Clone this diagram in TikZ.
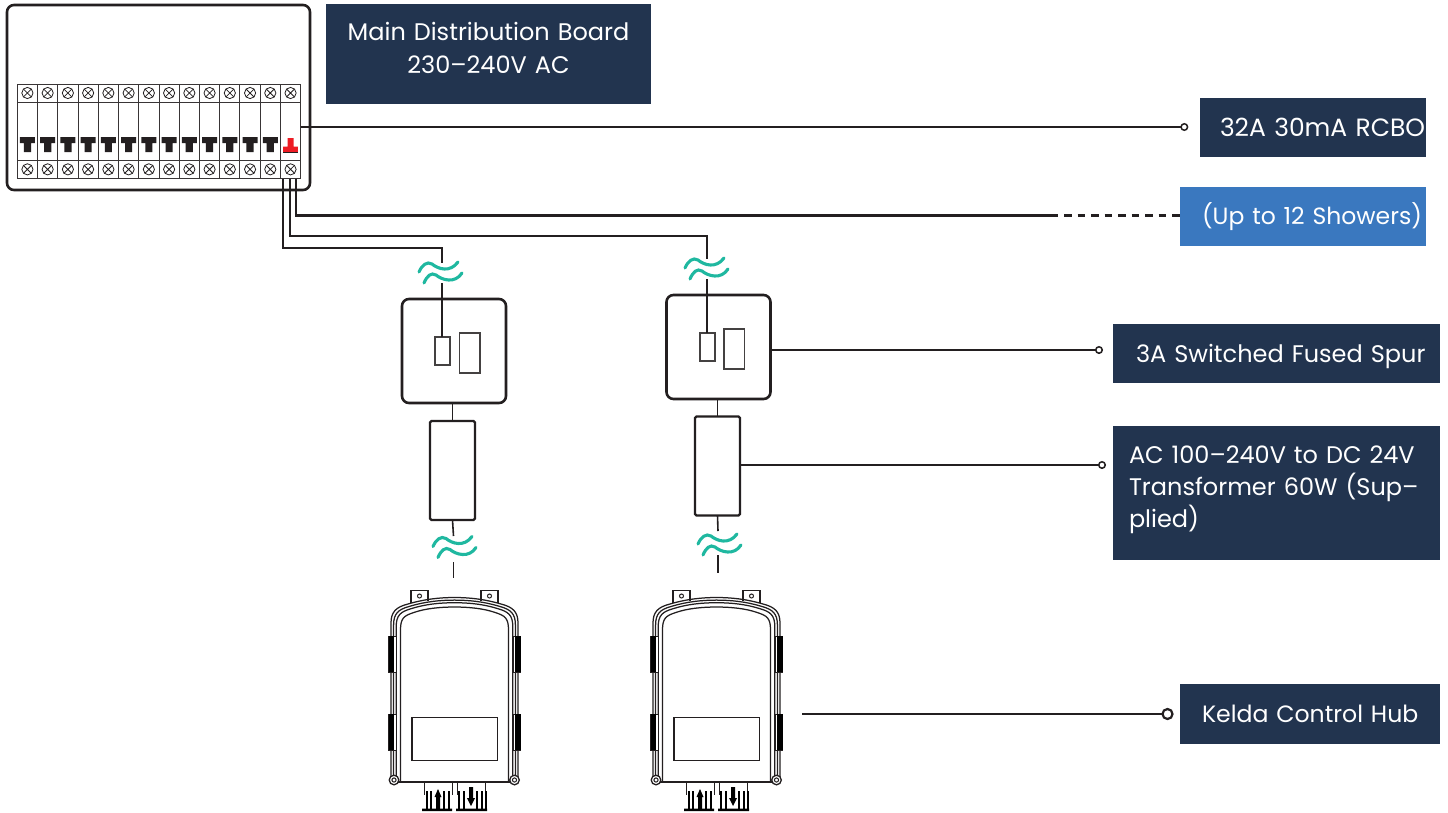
\documentclass[tikz,border=0pt]{standalone}
\usepackage{fontspec}
\usetikzlibrary{calc}
\setmainfont{Poppins}
\definecolor{navy}{HTML}{22344F}
\definecolor{bluebox}{HTML}{3A78BF}
\definecolor{ink}{HTML}{231F20}
\definecolor{teal}{HTML}{1FB8A0}
\definecolor{rcdred}{HTML}{ED1C24}
\tikzset{
  x=1pt,y=-1pt,
  tag/.style={anchor=north west,inner sep=0pt,outer sep=0pt,text=white,font=\fontsize{24}{32}\selectfont,align=left},
  navytag/.style={tag,fill=navy},
  bluetag/.style={tag,fill=bluebox},
  wire/.style={draw=ink,line width=2.2pt},
  thinwire/.style={draw=ink,line width=1.6pt},
  heavybox/.style={draw=ink,line width=2.6pt,rounded corners=7pt,fill=white,inner sep=0pt,outer sep=0pt,anchor=north west},
  tbox/.style={draw=ink,line width=2.4pt,rounded corners=1.5pt,fill=white,inner sep=0pt,outer sep=0pt,anchor=north west},
  lilbox/.style={draw=ink!85,line width=1.2pt,fill=white,inner sep=0pt,outer sep=0pt,anchor=north west},
  cell/.style={draw=ink!90,line width=.9pt,fill=white,inner sep=0pt,outer sep=0pt,anchor=north west,minimum width=20.24pt},
  endball/.style={circle,draw=ink,fill=white,line width=1.5pt,minimum size=6.5pt,inner sep=0pt,outer sep=0pt},
  squig/.style={draw=teal,line width=3.1pt,line cap=round},
  hubline/.style={draw=ink,line width=1pt},
}
\newcommand{\squiggle}[2]{%
  \begin{scope}[shift={(#1,#2)}]
    \draw[squig] (0,10) .. controls (3,3) and (8,-1) .. (13,2) .. controls (19,7) and (31,11) .. (39,0);
    \draw[squig] (5,21) .. controls (8,14) and (12,10) .. (17,13) .. controls (23,18) and (36,22) .. (43,11);
  \end{scope}}
\newcommand{\hubshell}[1]{%
  \draw[hubline,line width=1.25pt] (391+#1,782) -- (391+#1,{623+.7*#1})
    .. controls (391+#1,{612+.6*#1}) and ({396+.9*#1},{607+.9*#1}) .. ({408+.6*#1},{604+.9*#1})
    .. controls (425,{599+#1}) and (440,{597.5+#1}) .. (454.5,{597.5+#1})
    .. controls (469,{597.5+#1}) and (484,{599+#1}) .. ({501-.6*#1},{604+.9*#1})
    .. controls ({513-.9*#1},{607+.9*#1}) and (518-#1,{612+.6*#1}) .. (518-#1,{623+.7*#1}) -- (518-#1,782);}
\newcommand{\hubdraw}[1]{%
  \begin{scope}[shift={(#1,0)}]
    % mounting tabs
    \draw[hubline,fill=white,line width=1.2pt] (411,603) -- (411,590.5) -- (428,590.5) -- (428,601);
    \draw[hubline,fill=white,line width=1.2pt] (481,601) -- (481,590.5) -- (498,590.5) -- (498,603);
    \draw[hubline,line width=1pt] (419.5,596) circle (2);
    \draw[hubline,line width=1pt] (489.5,596) circle (2);
    % shell
    \hubshell{0}\hubshell{2.6}\hubshell{5.2}\hubshell{9.5}
    % side latches
    \foreach \ya/\yb in {636/672,714/750}{
      \draw[hubline,fill=white] (388.5,\ya) rectangle (396,\yb);
      \fill[black] (388.5,\ya) rectangle (394,\yb);
      \draw[hubline,fill=white] (513,\ya) rectangle (520.5,\yb);
      \fill[black] (515,\ya) rectangle (520.5,\yb);
    }
    % label panel
    \draw[hubline,line width=1.2pt] (412,717.7) rectangle (497.3,760.7);
    % bottom edge and corners
    \draw[draw=ink,line width=1.7pt] (396,782) -- (513,782);
    \foreach \cx in {394,514.5}{
      \draw[hubline,fill=white,line width=1.3pt] (\cx,780) circle (4.8);
      \draw[hubline] (\cx,780) circle (2.1);
    }
    % glands
    \draw[hubline] (424,782) -- (424,795) (452,782) -- (452,795) (457,782) -- (457,795) (485,782) -- (485,795);
    \fill[black] (422,808.5) rectangle (452,811) (456,808.5) rectangle (487,811);
    \foreach \gx in {426.5,431,444,449,459,463.5,477,482,485.5}{
      \draw[draw=black,line width=2pt] (\gx,791) -- (\gx,809);
    }
    \fill[black] (436,809) -- (436,797) -- (434.5,797) -- (438,789) -- (441.5,797) -- (440,797) -- (440,809) -- cycle;
    \fill[black] (469,787) -- (473,787) -- (473,798) -- (475,798) -- (471,806) -- (467,798) -- (469,798) -- cycle;
  \end{scope}}
\begin{document}
\begin{tikzpicture}
\useasboundingbox (0,0) rectangle (1448,812);
\fill[white] (0,0) rectangle (1448,812);

% ---- distribution board
\node[heavybox,minimum width=303pt,minimum height=185pt] (board) at (7,5) {};
\foreach \i in {1,...,14}{
  \pgfmathsetmacro{\xx}{17.3+(\i-1)*20.24}
  \node[cell,minimum height=18pt] (top\i) at (\xx,84) {};
  \node[cell,minimum height=58pt] (mid\i) at (\xx,102) {};
  \node[cell,minimum height=18.7pt] (bot\i) at (\xx,160) {};
  \foreach \n in {top\i,bot\i}{
    \draw[draw=ink,line width=.8pt] (\n.center) circle (5.6);
    \draw[draw=ink,line width=.8pt] ($(\n.center)+(-3.9,-3.9)$) -- ($(\n.center)+(3.9,3.9)$)
      ($(\n.center)+(3.9,-3.9)$) -- ($(\n.center)+(-3.9,3.9)$);
  }
}
\foreach \i in {1,...,13}{
  \pgfmathsetmacro{\xc}{17.3+(\i-.5)*20.24}
  \fill[ink] (\xc-7.5,137) rectangle (\xc+7.5,143) (\xc-3.6,143) rectangle (\xc+3.6,152);
}
\pgfmathsetmacro{\xr}{17.3+13.5*20.24}
\fill[rcdred] (\xr-7.3,146.5) rectangle (\xr+7.3,152) (\xr-3,138) rectangle (\xr+3,147);
\draw[ink,line width=.5pt] (\xr-7.3,152) -- (\xr+7.3,152);

% ---- labels
\node[navytag,minimum width=325pt,minimum height=100pt,align=center,text width=325pt] (mdb) at (326,4)
  {Main Distribution Board\\[1pt]230–240V AC\\[-29pt]\strut};
\node[navytag,minimum width=226pt,minimum height=59pt,text width=226pt,font=\fontsize{25}{32}\selectfont] (rcbo) at (1200,98)
  {\hspace*{20pt}\mbox{32A 30mA RCBO}};
\node[bluetag,minimum width=246pt,minimum height=59pt,text width=246pt,font=\fontsize{23.5}{32}\selectfont] (showers) at (1180,187)
  {\hspace*{22pt}\mbox{(Up to 12 Showers)}};
\node[navytag,minimum width=327pt,minimum height=59pt,text width=327pt] (spur) at (1113,324)
  {\rule{0pt}{24pt}\hspace*{23pt}\mbox{3A Switched Fused Spur}};
\node[navytag,minimum width=327pt,minimum height=134pt,text width=327pt] (xfmr) at (1113,426)
  {\hspace*{16pt}AC 100–240V to DC 24V\\\hspace*{16pt}Transformer 60W (Sup–\\\hspace*{16pt}plied)\\[-28pt]\strut};
\node[navytag,minimum width=260pt,minimum height=60pt,text width=260pt,font=\fontsize{23.6}{32}\selectfont] (kelda) at (1180,684)
  {\hspace*{22pt}\mbox{Kelda Control Hub}};

% ---- end balls
\node[endball] (ballrcbo) at (1184.3,127) {};
\node[endball] (ballspur) at (1099,350) {};
\node[endball] (ballxfmr) at (1102,465) {};
\node[endball,minimum size=10pt,line width=2.2pt] (ballhub) at (1167.5,714) {};

% ---- spur and transformer, left chain
\node[heavybox,minimum width=104pt,minimum height=104pt] (spurL) at (402,299) {};
\node[lilbox,minimum width=15pt,minimum height=28pt] (fuseL) at (435,337) {};
\node[lilbox,minimum width=20.5pt,minimum height=40pt] (swL) at (459.5,333) {};
\node[tbox,minimum width=45pt,minimum height=99pt] (xfL) at (430,421) {};
% ---- right chain
\node[heavybox,minimum width=104pt,minimum height=104pt] (spurR) at (666.5,295) {};
\node[lilbox,minimum width=15pt,minimum height=28pt] (fuseR) at (700,333) {};
\node[lilbox,minimum width=20.5pt,minimum height=40pt] (swR) at (724,329) {};
\node[tbox,minimum width=45pt,minimum height=99pt] (xfR) at (695,416.5) {};

% ---- connector waypoints
\coordinate (a0) at ($(bot14.south)+(-7.3,0)$);
\coordinate (b0) at ($(bot14.south)+(-.3,0)$);
\coordinate (c0) at ($(bot14.south)+(5.7,0)$);
\coordinate (a1) at (442,248);
\coordinate (a2) at (442,263);
\coordinate (a3) at (442,283);
\coordinate (b1) at (707,236);
\coordinate (b2) at (707,259);
\coordinate (b3) at (707,279);
\coordinate (c1) at (1058,215.5);
\coordinate (lowL1) at (453.5,536);
\coordinate (lowL2) at (453.5,562);
\coordinate (lowL3) at (453.5,578);
\coordinate (lowR1) at (718,531);
\coordinate (lowR2) at (718,555);
\coordinate (lowR3) at (718,573);
\coordinate (hubout) at (802,714);

% ---- connectors
\draw[wire] (a0) |- (a1) -- (a2);
\draw[wire] (a3) -- (fuseL.north -| a3);
\draw[wire] (b0) |- (b1) -- (b2);
\draw[wire] (b3) -- (fuseR.north -| b3);
\draw[wire,line width=2.5pt] (c0) |- (c1);
\draw[draw=ink,line width=2.5pt,dash pattern=on 7.5pt off 6pt,dash phase=7.5pt] (c1) -- (showers.west |- c1);
\draw[thinwire] (mid14.east |- ballrcbo) -- (ballrcbo.west);
\draw[thinwire] (spurR.east |- ballspur) -- (ballspur.west);
\draw[thinwire] (xfR.east |- ballxfmr) -- (ballxfmr.west);
\draw[wire,line width=2.2pt] (hubout) -- (ballhub.west);
\draw[thinwire] (xfL.north |- spurL.south) -- (xfL.north);
\draw[thinwire] (xfR.north |- spurR.south) -- (xfR.north);
\draw[thinwire] (xfL.south) -- (lowL1);
\draw[thinwire] (lowL2) -- (lowL3);
\draw[thinwire] (xfR.south) -- (lowR1);
\draw[thinwire] (lowR2) -- (lowR3);

% ---- break marks
\squiggle{419}{262}
\squiggle{433}{536.5}
\squiggle{685}{258}
\squiggle{698}{534}

% ---- hubs
\hubdraw{0}
\hubdraw{262}
\end{tikzpicture}
\end{document}
